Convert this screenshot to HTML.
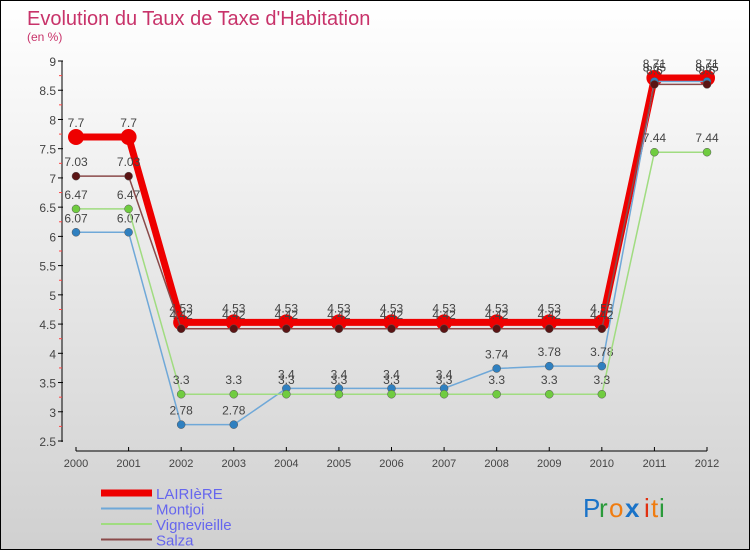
<!DOCTYPE html>
<html><head><meta charset="utf-8"><style>
body{margin:0;}
#wrap{position:relative;width:748px;height:548px;border:1px solid #000;background:linear-gradient(#ffffff,#d0d0d0);font-family:"Liberation Sans",sans-serif;overflow:hidden}
</style></head><body>
<div id="wrap">
<svg id="svg" width="748" height="548" style="position:absolute;left:0;top:0">
<text x="26" y="24" font-size="20" fill="#c8336a">Evolution du Taux de Taxe d'Habitation</text>
<text x="26" y="40" font-size="12" fill="#c8336a">(en %)</text>
<g id="axes"></g><g id="series"></g><g id="legend"></g>
<g font-size="26" font-family="'Liberation Sans',sans-serif">
<text x="582" y="516" fill="#1a73c8">P</text><text x="598" y="516" fill="#2a9a3a">r</text><text x="608" y="516" fill="#f07c10">o</text><text x="624" y="516" fill="#1a73c8" font-weight="bold">x</text><text x="643" y="516" fill="#e03010">i</text><text x="650" y="516" fill="#f07c10">t</text><text x="658" y="516" fill="#2a9a3a">i</text>
</g>
</svg>
</div>
<script>
const years=["2000","2001","2002","2003","2004","2005","2006","2007","2008","2009","2010","2011","2012"];
const yTicks=[2.5,3,3.5,4,4.5,5,5.5,6,6.5,7,7.5,8,8.5,9];
const lairiere=[7.7,7.7,4.53,4.53,4.53,4.53,4.53,4.53,4.53,4.53,4.53,8.71,8.71];
const montjoi=[6.07,6.07,2.78,2.78,3.4,3.4,3.4,3.4,3.74,3.78,3.78,8.65,8.65];
const vignevieille=[6.47,6.47,3.3,3.3,3.3,3.3,3.3,3.3,3.3,3.3,3.3,7.44,7.44];
const salza=[7.03,7.03,4.42,4.42,4.42,4.42,4.42,4.42,4.42,4.42,4.42,8.6,8.6];
const seriesNames=["LAIRIèRE","Montjoi","Vignevieille","Salza"];
const NS="http://www.w3.org/2000/svg";
function X(i){return 75+i*(706-75)/(years.length-1);}
function Y(v){return 60+(9-v)*(380/6.5);}
function mk(t,a,p){const e=document.createElementNS(NS,t);for(const k in a)e.setAttribute(k,a[k]);if(p)p.appendChild(e);return e;}
const axes=document.getElementById('axes');
let yl=mk('line',{x1:61,y1:60,x2:61,y2:441,stroke:'#000','stroke-width':1},axes);

let xl=mk('line',{x1:75,y1:450,x2:706,y2:450,stroke:'#000','stroke-width':1},axes);

yTicks.forEach(v=>{const y=Y(v);
 mk('line',{x1:57,y1:y,x2:62,y2:y,stroke:'#000'},axes);
 if(v<9) mk('line',{x1:58,y1:y-14.6,x2:61,y2:y-14.6,stroke:'#f44'},axes);
 const t=mk('text',{x:55,y:y+5,'font-size':12,fill:'#444','text-anchor':'end'},axes);t.textContent=v;
 });
years.forEach((yr,i)=>{const x=X(i);
 mk('line',{x1:x,y1:446,x2:x,y2:450,stroke:'#000'},axes);
 const t=mk('text',{x:x,y:466,'font-size':11,fill:'#444','text-anchor':'middle'},axes);t.textContent=yr;
 });
const sg=document.getElementById('series');
const defs=[[montjoi,'#6fa8d8','#2f80c0',1.5,4,'montjoi'],[vignevieille,'#a0dc80','#70cc40',1.5,4,'vignevieille'],[salza,'#8a4a4a','#5a1414',1.5,4,'salza'],[lairiere,'#ee0000','#ee0000',7,8,'lairiere']];
const order=[3,0,1,2];
order.forEach(k=>{const [d,lc,pc,w,r,nm]=defs[k];
 const g=mk('g',{},sg);
 
 const p=mk('polyline',{points:d.map((v,i)=>X(i)+','+Y(v)).join(' '),fill:'none',stroke:lc,'stroke-width':w,'stroke-linejoin':'round'},g);
 
 d.forEach((v,i)=>{const c=mk('circle',{cx:X(i),cy:Y(v),r:r,fill:pc,stroke:k==3?'#ee0000':'#555','stroke-width':k==3?0:0.5},g);
  
  const t=mk('text',{x:X(i),y:Y(v)-10,'font-size':12,fill:'#444','text-anchor':'middle'},g);t.textContent=v;
  });
});
const lg=document.getElementById('legend');
const lcols=['#ee0000','#6fa8d8','#a0dc80','#8a4a4a'],lw=[7,2,2,2];
seriesNames.forEach((n,i)=>{const y=492+i*15.5;
 const g=mk('g',{},lg);
 mk('line',{x1:100,y1:y,x2:151,y2:y,stroke:lcols[i],'stroke-width':lw[i]},g);
 const t=mk('text',{x:155,y:y+6,'font-size':15,fill:'#6666ee'},g);t.textContent=n;});
</script>
</body></html>
